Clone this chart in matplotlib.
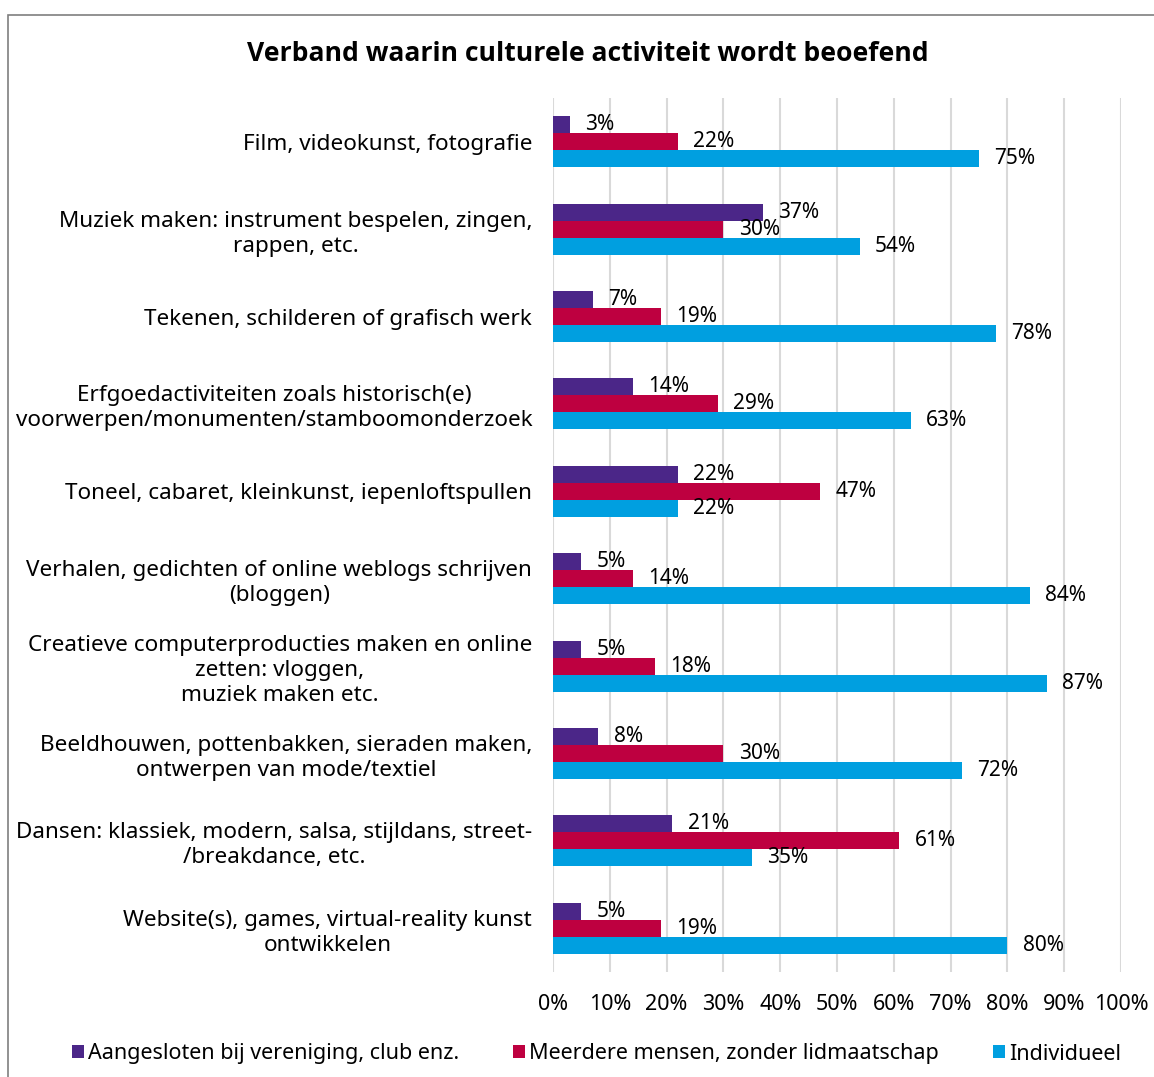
import numpy as np
import matplotlib.pyplot as plt
from matplotlib.patches import Rectangle

# Gegevens
categorieen = ["Film, videokunst, fotografie",
               "Muziek maken: instrument bespelen, zingen,\nrappen, etc.",
               "Tekenen, schilderen of grafisch werk",
               "Erfgoedactiviteiten zoals historisch(e)\nvoorwerpen/monumenten/stamboomonderzoek",
               "Toneel, cabaret, kleinkunst, iepenloftspullen",
               "Verhalen, gedichten of online weblogs schrijven\n(bloggen)",
               "Creatieve computerproducties maken en online\nzetten: vloggen,\nmuziek maken etc.",
               "Beeldhouwen, pottenbakken, sieraden maken,\nontwerpen van mode/textiel",
               "Dansen: klassiek, modern, salsa, stijldans, street-\n/breakdance, etc.",
               "Website(s), games, virtual-reality kunst\nontwikkelen"]
vereniging = [3, 37, 7, 14, 22, 5, 5, 8, 21, 5]
meerdere = [22, 30, 19, 29, 47, 14, 18, 30, 61, 19]
individueel = [75, 54, 78, 63, 22, 84, 87, 72, 35, 80]
reeksen = ["Aangesloten bij vereniging, club enz.", "Meerdere mensen, zonder lidmaatschap", "Individueel"]
kleuren = ["#4B2688", "#BE0040", "#009FE0"]

plt.rcParams['font.family'] = ['Noto Sans', 'DejaVu Sans']

fig = plt.figure(figsize=(11.54, 10.77), dpi=100)
fig.patches.append(Rectangle((8/1154, -0.1), 1.2, 1 - 15/1077 + 0.1, transform=fig.transFigure,
                             fill=False, edgecolor="#7f7f7f", linewidth=1.2))

ax = fig.add_axes([553/1154, 1 - 972/1077, (1121 - 553)/1154, (972 - 98)/1077])

y = np.arange(len(categorieen))
h = 0.195
for i, (waarden, kleur) in enumerate(zip([vereniging, meerdere, individueel], kleuren)):
    pos = y + (i - 1) * h
    ax.barh(pos, waarden, height=h, color=kleur, label=reeksen[i], zorder=3)
    for p, w in zip(pos, waarden):
        ax.text(w + 2.7, p, f"{w}%", va="center", ha="left", fontsize=15, zorder=4)

ax.set_xlim(0, 100)
ax.set_ylim(len(categorieen) - 0.5, -0.5)
ax.set_xticks(np.arange(0, 101, 10))
ax.set_xticklabels([f"{v}%" for v in range(0, 101, 10)], fontsize=15.5)
ax.set_yticks(y)
ax.set_yticklabels(categorieen, fontsize=16.2, ha="right", multialignment="center", linespacing=1.25)
ax.grid(axis="x", color="#d9d9d9", linewidth=1.5, zorder=0)
for s in ax.spines.values():
    s.set_visible(False)
ax.tick_params(axis="both", length=0)
ax.tick_params(axis="x", pad=16)
ax.tick_params(axis="y", pad=15)

fig.text(0.509, 1 - 54/1077, "Verband waarin culturele activiteit wordt beoefend",
         ha="center", va="center", fontsize=19.1, fontweight="bold", family=["Open Sans", "DejaVu Sans"])

fig.legend(loc="center", bbox_to_anchor=(0.517, 1 - 1054/1077), ncol=3, frameon=False,
           fontsize=15.5, handlelength=0.55, handleheight=0.55, handletextpad=0.2, columnspacing=2.5)

fig.savefig("out.png", dpi=100)
